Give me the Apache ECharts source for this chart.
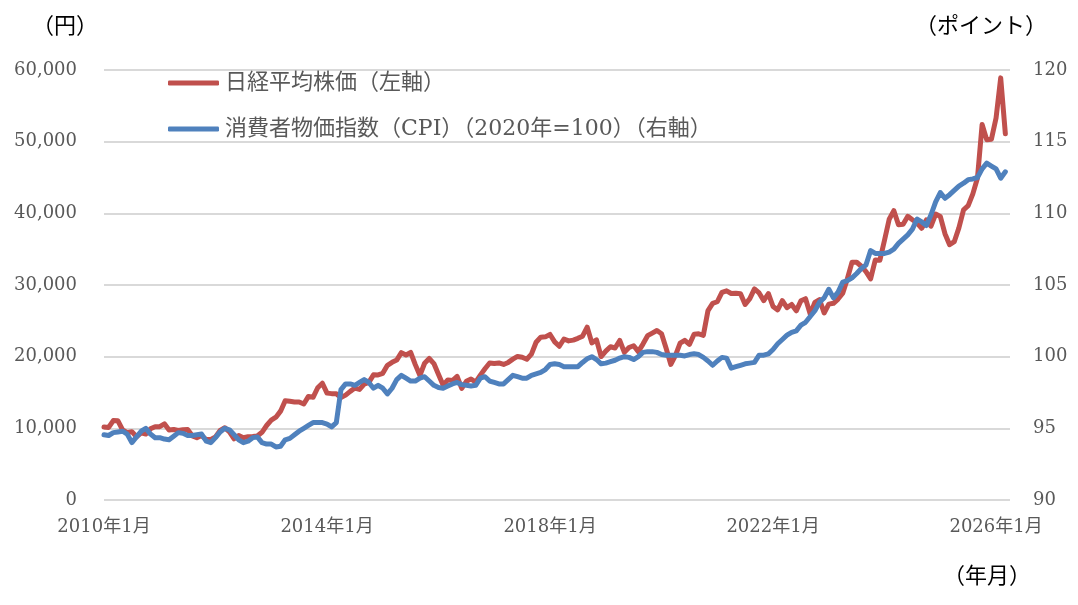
<!DOCTYPE html>
<html>
<head>
<meta charset="utf-8">
<script src="https://cdn.jsdelivr.net/npm/echarts@6/dist/echarts.min.js"></script>
<style>
html,body{margin:0;padding:0;background:#fff;}
#chart{width:1078px;height:605px;}
</style>
</head>
<body>
<div id="chart"></div>
<script>
// Months 2010-01 .. 2026-03 (plus one empty slot for axis extent)
const startYear = 2010;
const monthCount = 196;
const categories = [];
for (let i = 0; i < monthCount; i++) {
  const y = startYear + Math.floor(i / 12);
  const m = (i % 12) + 1;
  categories.push(y + '年' + m + '月');
}
const labelYears = ['2010年1月', '2014年1月', '2018年1月', '2022年1月', '2026年1月'];

// 日経平均株価（月末終値, 円）
const nikkei = [
  10198, 10126, 11089, 11057, 9768, 9382, 9537, 8824, 9369, 9202, 9937, 10228,
  10237, 10624, 9755, 9849, 9693, 9816, 9833, 8955, 8700, 8988, 8434, 8455,
  8802, 9723, 10083, 9520, 8543, 9007, 8695, 8839, 8870, 8928, 9446, 10395,
  11138, 11559, 12398, 13861, 13775, 13677, 13668, 13389, 14456, 14328, 15662, 16291,
  14915, 14841, 14828, 14304, 14632, 15162, 15621, 15425, 16174, 16414, 17460, 17451,
  17674, 18798, 19207, 19520, 20563, 20236, 20585, 18890, 17388, 19083, 19747, 19034,
  17518, 16027, 16759, 16666, 17235, 15576, 16569, 16887, 16450, 17425, 18308, 19114,
  19041, 19119, 18909, 19197, 19651, 20033, 19925, 19646, 20356, 22012, 22725, 22765,
  23098, 22068, 21454, 22468, 22202, 22305, 22554, 22865, 24120, 21920, 22351, 20015,
  20773, 21385, 21206, 22259, 20601, 21276, 21522, 20704, 21756, 22927, 23294, 23657,
  23205, 21143, 18917, 20194, 21878, 22288, 21710, 23140, 23185, 22977, 26434, 27444,
  27663, 28966, 29179, 28813, 28860, 28792, 27284, 28090, 29453, 28893, 27822, 28792,
  27002, 26527, 27821, 26848, 27280, 26393, 27802, 28092, 25937, 27587, 27969, 26095,
  27327, 27446, 28041, 28856, 30888, 33189, 33172, 32619, 31858, 30859, 33487, 33464,
  36287, 39166, 40369, 38406, 38488, 39583, 39102, 38648, 37920, 39081, 38208, 39895,
  39572, 37156, 35618, 36045, 37965, 40487, 41070, 42718, 44933, 52411, 50254, 50339,
  53300, 58900, 51100, null
];

// 消費者物価指数（2020年=100）
const cpi = [
  94.55, 94.5, 94.7, 94.75, 94.8, 94.6, 94.0, 94.4, 94.8, 95.0, 94.6, 94.35,
  94.35, 94.25, 94.2, 94.45, 94.7, 94.65, 94.5, 94.5, 94.55, 94.6, 94.1, 94.0,
  94.35, 94.75, 95.0, 94.9, 94.55, 94.2, 94.0, 94.1, 94.35, 94.4, 94.0, 93.9,
  93.9, 93.7, 93.75, 94.2, 94.3, 94.55, 94.8, 95.0, 95.2, 95.4, 95.4, 95.4,
  95.3, 95.1, 95.4, 97.7, 98.1, 98.1, 98.0, 98.2, 98.4, 98.2, 97.8, 98.0,
  97.8, 97.4, 97.8, 98.4, 98.7, 98.5, 98.3, 98.3, 98.5, 98.6, 98.3, 98.0,
  97.85, 97.8, 97.95, 98.1, 98.2, 98.05, 98.0, 97.95, 98.0, 98.5, 98.6, 98.3,
  98.2, 98.1, 98.1, 98.4, 98.7, 98.6, 98.5, 98.5, 98.7, 98.8, 98.9, 99.1,
  99.45, 99.5, 99.45, 99.3, 99.3, 99.3, 99.3, 99.6, 99.85, 100.0, 99.8, 99.5,
  99.55, 99.65, 99.75, 99.9, 100.0, 99.95, 99.8, 100.0, 100.3, 100.35, 100.35, 100.3,
  100.15, 100.1, 100.1, 100.1, 100.1, 100.05, 100.15, 100.2, 100.15, 99.95, 99.7, 99.4,
  99.7, 99.95, 99.9, 99.2, 99.3, 99.4, 99.5, 99.55, 99.6, 100.1, 100.1, 100.2,
  100.5, 100.9, 101.2, 101.5, 101.7, 101.8, 102.2, 102.4, 102.8, 103.2, 103.8, 104.1,
  104.7, 104.1, 104.5, 105.2, 105.3, 105.5, 105.8, 106.15, 106.4, 107.4, 107.2, 107.2,
  107.2, 107.3, 107.5, 107.9, 108.2, 108.5, 108.9, 109.6, 109.4, 109.15, 109.9, 110.8,
  111.45, 111.05, 111.3, 111.6, 111.9, 112.1, 112.35, 112.4, 112.5, 113.1, 113.5, 113.3,
  113.1, 112.45, 112.9, null
];

const numFont = '"DejaVu Serif", "Noto Sans CJK JP", serif';
const jpFont = '"Noto Sans CJK JP", sans-serif';
const gray = '#595959';

const chart = echarts.init(document.getElementById('chart'), null, {renderer: 'canvas'});
chart.setOption({
  animation: false,
  backgroundColor: '#ffffff',
  grid: {left: 104, right: 68, top: 70, bottom: 105},
  legend: {
    orient: 'vertical',
    left: 163,
    top: 67,
    icon: 'roundRect',
    itemWidth: 51,
    itemHeight: 5,
    itemGap: 24,
    textStyle: {color: gray, fontSize: 22, fontFamily: numFont, padding: [0, 0, 0, 1]},
    data: ['日経平均株価（左軸）', '消費者物価指数（CPI）（2020年=100）（右軸）']
  },
  xAxis: {
    type: 'category',
    data: categories,
    boundaryGap: false,
    axisLine: {show: false},
    axisTick: {show: false},
    splitLine: {show: false},
    axisLabel: {
      interval: (idx, val) => labelYears.indexOf(val) >= 0,
      color: gray,
      fontSize: 18,
      fontFamily: numFont,
      margin: 18,
      hideOverlap: false
    }
  },
  yAxis: [
    {
      type: 'value', min: 0, max: 60000, interval: 10000,
      axisLine: {show: false}, axisTick: {show: false},
      splitLine: {lineStyle: {color: '#d9d9d9', width: 2}},
      axisLabel: {
        color: gray, fontSize: 18, fontFamily: numFont, margin: 27,
        formatter: v => v.toLocaleString('en-US')
      }
    },
    {
      type: 'value', min: 90, max: 120, interval: 5,
      axisLine: {show: false}, axisTick: {show: false},
      splitLine: {show: false},
      axisLabel: {color: gray, fontSize: 18, fontFamily: numFont, margin: 23}
    }
  ],
  series: [
    {
      name: '日経平均株価（左軸）',
      type: 'line',
      yAxisIndex: 0,
      data: nikkei,
      symbol: 'none',
      lineStyle: {color: '#C0504D', width: 5, join: 'round', cap: 'round'},
      itemStyle: {color: '#C0504D'},
      z: 2
    },
    {
      name: '消費者物価指数（CPI）（2020年=100）（右軸）',
      type: 'line',
      yAxisIndex: 1,
      data: cpi,
      symbol: 'none',
      lineStyle: {color: '#4F81BD', width: 5, join: 'round', cap: 'round'},
      itemStyle: {color: '#4F81BD'},
      z: 3
    }
  ],
  graphic: [
    {type: 'text', left: 32, top: 14, style: {text: '（円）', fill: '#000', fontSize: 22, fontFamily: jpFont}},
    {type: 'text', left: 915, top: 14, style: {text: '（ポイント）', fill: '#000', fontSize: 22, fontFamily: jpFont}},
    {type: 'text', left: 943, top: 564, style: {text: '（年月）', fill: '#000', fontSize: 22, fontFamily: jpFont}}
  ]
});
</script>
</body>
</html>
